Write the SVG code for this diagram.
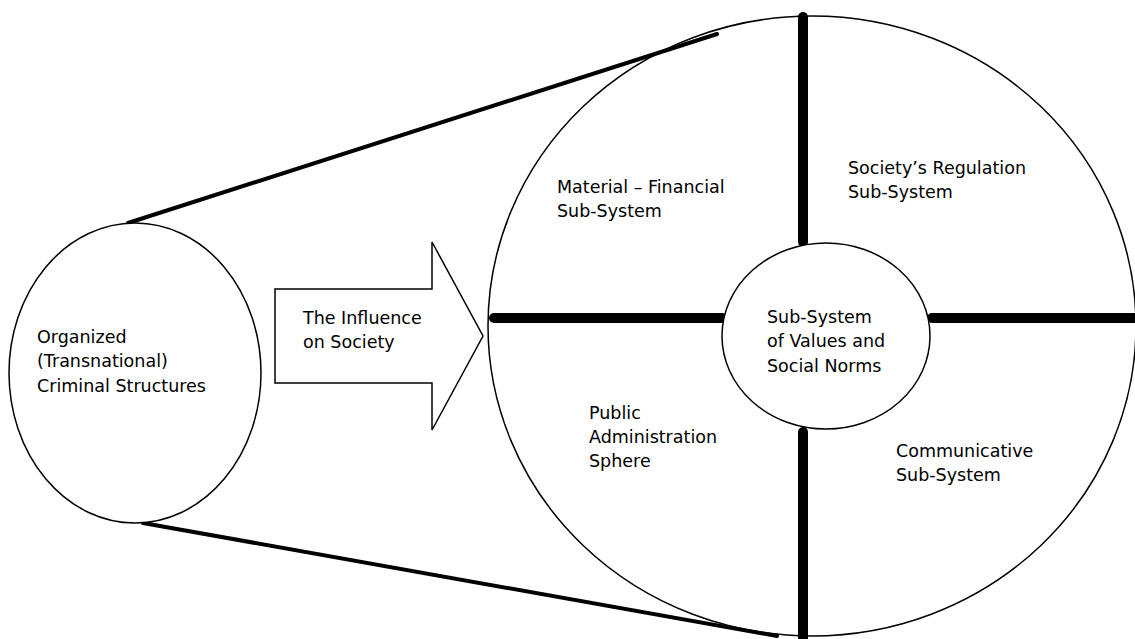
<svg xmlns="http://www.w3.org/2000/svg" width="1135" height="639" viewBox="0 0 1135 639">
<style>
.shape{fill:#fff;stroke:#000;stroke-width:1.5}
.thin{fill:none;stroke:#000;stroke-width:1.5}
.link{stroke:#000;stroke-width:4;stroke-linecap:round;fill:none}
.bar{stroke:#000;stroke-width:10;stroke-linecap:round;fill:none}
text{font-family:"DejaVu Sans","Verdana",sans-serif;font-size:17.5px;fill:#000}
</style>
<rect width="1135" height="639" fill="#fff"/>
<g id="society">
<ellipse class="thin" cx="812" cy="326" rx="324" ry="310"/>
</g>
<g id="connectors">
<line class="link" x1="128" y1="223" x2="717" y2="34"/>
<line class="link" x1="143" y1="523" x2="777" y2="636"/>
<line class="bar" x1="494" y1="318" x2="722" y2="318"/>
<line class="bar" x1="932" y1="318" x2="1145" y2="318"/>
<line class="bar" x1="803" y1="17" x2="803" y2="242"/>
<line class="bar" x1="803" y1="432" x2="803" y2="645"/>
</g>
<g id="crime">
<ellipse class="shape" cx="135" cy="373" rx="126" ry="150"/>
<text x="37" y="343">Organized</text>
<text x="37" y="367">(Transnational)</text>
<text x="37" y="392">Criminal Structures</text>
</g>
<g id="influence">
<polygon class="shape" points="275,289 432,289 432,242 483,336 432,430 432,383 275,383"/>
<text x="303" y="324">The Influence</text>
<text x="303" y="348">on Society</text>
</g>
<g id="values">
<ellipse class="shape" cx="826" cy="336" rx="104" ry="93"/>
<text x="767" y="323">Sub-System</text>
<text x="767" y="347">of Values and</text>
<text x="767" y="372">Social Norms</text>
</g>
<g id="material">
<text x="557" y="193">Material – Financial</text>
<text x="557" y="217">Sub-System</text>
</g>
<g id="regulation">
<text x="848" y="174">Society’s Regulation</text>
<text x="848" y="198">Sub-System</text>
</g>
<g id="public">
<text x="589" y="419">Public</text>
<text x="589" y="443">Administration</text>
<text x="589" y="467">Sphere</text>
</g>
<g id="communicative">
<text x="896" y="457">Communicative</text>
<text x="896" y="481">Sub-System</text>
</g>
</svg>
